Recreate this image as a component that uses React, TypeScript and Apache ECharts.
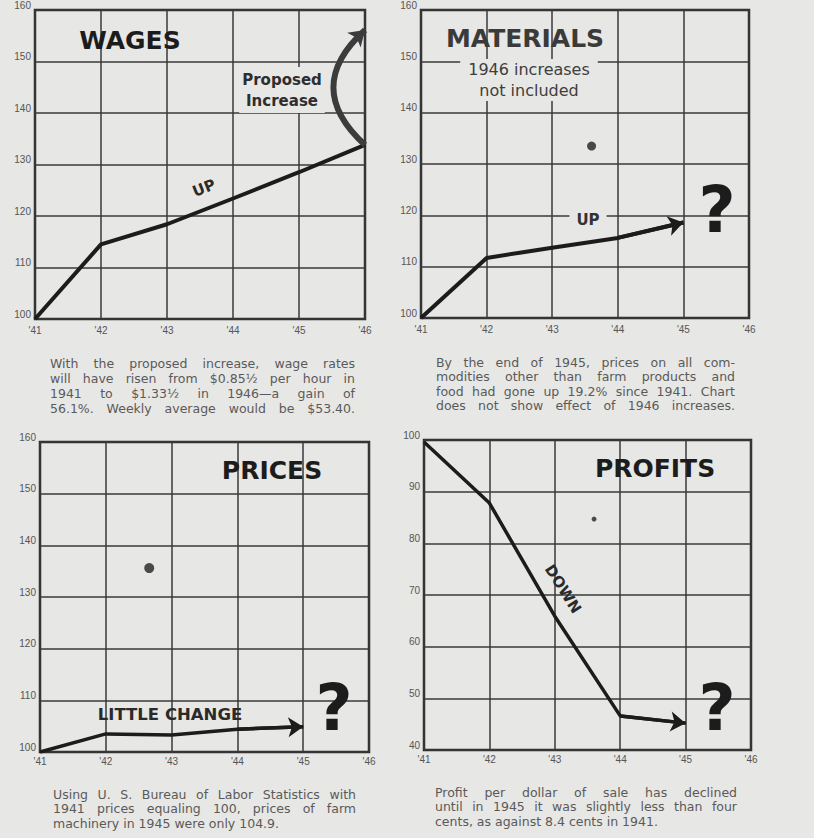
import React, { useEffect, useRef } from "react";
import * as echarts from "echarts";

// ---------- data ----------
const years = [1941, 1942, 1943, 1944, 1945, 1946];
const yearLabels = ["'41", "'42", "'43", "'44", "'45", "'46"];
const wages = [100, 114.5, 118.4, 123.4, 128.5, 133.8];
const wagesProposed = 156.1;
const materials = [100, 111.7, 113.7, 115.6, 118.6];
const prices = [100, 103.5, 103.3, 104.4, 104.9];
const profits = [99.6, 87.8, 65.9, 46.6, 45.2];
const indexTicks = [100, 110, 120, 130, 140, 150, 160];
const profitTicks = [40, 50, 60, 70, 80, 90, 100];
// printing blemishes visible on the page: [year, value, size]
const materialsDots = [[1943.6, 133.5, 9]];
const pricesDots = [[1942.66, 135.6, 10]];
const profitsDots = [[1943.6, 84.7, 5]];

const titles = ["WAGES", "MATERIALS", "PRICES", "PROFITS"];
const caption1 = [
  "With the proposed increase, wage rates",
  "will have risen from $0.85½ per hour in",
  "1941 to $1.33½ in 1946—a gain of",
  "56.1%. Weekly average would be $53.40.",
];
const caption2 = [
  "By the end of 1945, prices on all com-",
  "modities other than farm products and",
  "food had gone up 19.2% since 1941. Chart",
  "does not show effect of 1946 increases.",
];
const caption3 = [
  "Using U. S. Bureau of Labor Statistics with",
  "1941 prices equaling 100, prices of farm",
  "machinery in 1945 were only 104.9.",
];
const caption4 = [
  "Profit per dollar of sale has declined",
  "until in 1945 it was slightly less than four",
  "cents, as against 8.4 cents in 1941.",
];

const PAPER = "#e7e7e5";
const INK = "#1c1c1c";
const GRIDC = "#3a3a3a";

function pairs(vals: number[]) {
  return vals.map((v, i) => [years[i], v]);
}

let measureCtx: CanvasRenderingContext2D | null = null;
function measure(t: string, font: string) {
  if (!measureCtx) measureCtx = document.createElement("canvas").getContext("2d");
  measureCtx!.font = font;
  return measureCtx!.measureText(t).width;
}

function captionEls(lines: string[], x0: number, width: number, y0: number, lh: number, justifyLast: boolean) {
  const size = 12.5;
  const fam = "DejaVu Sans";
  const font = `${size}px ${fam}`;
  const els: any[] = [];
  lines.forEach((line, li) => {
    const y = y0 + li * lh;
    const isLast = li === lines.length - 1;
    const words = line.split(" ");
    if ((isLast && !justifyLast) || words.length < 2) {
      els.push({ type: "text", x: x0, y, z: 3, style: { text: line, font, fill: "#5a5a5a", align: "left", verticalAlign: "middle" } });
      return;
    }
    const ws = words.map((w) => measure(w, font));
    const total = ws.reduce((a, b) => a + b, 0);
    const gap = Math.max(3, (width - total) / (words.length - 1));
    let cx = x0;
    words.forEach((w, i) => {
      els.push({ type: "text", x: cx, y, z: 3, style: { text: w, font, fill: "#5a5a5a", align: "left", verticalAlign: "middle" } });
      cx += ws[i] + gap;
    });
  });
  return els;
}

export default function App() {
  const ref = useRef<HTMLDivElement>(null);
  useEffect(() => {
    if (!ref.current) return;
    const chart = echarts.init(ref.current, null, { renderer: "svg" });
    const grids = [
      { left: 35, top: 6, width: 330, height: 313 },
      { left: 421, top: 5, width: 328, height: 313 },
      { left: 40, top: 442, width: 329, height: 310 },
      { left: 424, top: 440, width: 327, height: 310 },
    ].map((g) => ({ ...g, show: true, borderColor: "#2a2a2a", borderWidth: 2.5, backgroundColor: "transparent" }));

    const xAxes = grids.map((_, i) => ({
      type: "value",
      gridIndex: i,
      min: years[0],
      max: years[years.length - 1],
      interval: 1,
      axisLine: { show: false },
      axisTick: { show: false },
      splitLine: { show: true, lineStyle: { color: GRIDC, width: 1.5 } },
      axisLabel: {
        formatter: (v: number) => yearLabels[years.indexOf(v)] ?? "",
        fontSize: 10,
        fontFamily: "Liberation Sans",
        color: "#555",
        margin: i < 2 ? 6 : 4,
      },
    }));
    const yAxes = grids.map((_, i) => {
      const ticks = i === 3 ? profitTicks : indexTicks;
      return {
        type: "value",
        gridIndex: i,
        min: ticks[0],
        max: ticks[ticks.length - 1],
        interval: 10,
        axisLine: { show: false },
        axisTick: { show: false },
        splitLine: { show: true, lineStyle: { color: GRIDC, width: 1.5 } },
        axisLabel: {
          fontSize: 10,
          fontFamily: "Liberation Sans",
          color: "#555",
          margin: 4,
          verticalAlign: "bottom",
        },
      };
    });

    const lineSeries = (idx: number, vals: number[], width: number) => ({
      type: "line",
      xAxisIndex: idx,
      yAxisIndex: idx,
      data: pairs(vals),
      symbol: "none",
      lineStyle: { color: INK, width },
      z: 4,
    });
    const arrowSeries = (idx: number, vals: number[], width: number) => ({
      type: "lines",
      coordinateSystem: "cartesian2d",
      xAxisIndex: idx,
      yAxisIndex: idx,
      symbol: ["none", "arrow"],
      symbolSize: [11, 15],
      lineStyle: { color: INK, width, opacity: 1 },
      data: [{ coords: [pairs(vals)[vals.length - 2], pairs(vals)[vals.length - 1]] }],
      z: 5,
    });
    const dotSeries = (idx: number, dots: number[][]) => ({
      type: "scatter",
      xAxisIndex: idx,
      yAxisIndex: idx,
      data: dots.map((d) => [d[0], d[1]]),
      symbolSize: (_v: any, p: any) => dots[p.dataIndex][2],
      itemStyle: { color: "#222" },
      z: 4,
    });

    const titleFont = "bold 25px DejaVu Sans";
    const qFont = "bold 64px DejaVu Sans";
    const graphics: any[] = [
      { type: "text", x: 130, y: 40, z: 3, style: { text: titles[0], font: titleFont, fill: INK, align: "center", verticalAlign: "middle" } },
      { type: "text", x: 282, y: 90, z: 3, style: { text: "Proposed\nIncrease", font: "bold 15px DejaVu Sans", lineHeight: 21, fill: "#2e2e2e", align: "center", verticalAlign: "middle", backgroundColor: PAPER, padding: [2, 3] } },
      { type: "text", x: 204, y: 188, z: 3, rotation: 0.38, style: { text: "UP", font: "bold 15px DejaVu Sans", fill: "#2a2a2a", align: "center", verticalAlign: "middle" } },

      { type: "text", x: 525, y: 38, z: 3, style: { text: titles[1], font: titleFont, fill: "#3a3a3a", align: "center", verticalAlign: "middle" } },
      { type: "text", x: 529, y: 80, z: 3, style: { text: "1946 increases\nnot included", font: "16px DejaVu Sans", lineHeight: 21, fill: "#3e3e3e", align: "center", verticalAlign: "middle", backgroundColor: PAPER, padding: [0, 8] } },
      { type: "text", x: 588, y: 220, z: 3, style: { text: "UP", font: "bold 15px DejaVu Sans", fill: "#333", align: "center", verticalAlign: "middle", backgroundColor: PAPER, padding: [0, 7] } },
      { type: "text", x: 717, y: 210, z: 3, style: { text: "?", font: qFont, fill: INK, align: "center", verticalAlign: "middle" } },

      { type: "text", x: 272, y: 470, z: 3, style: { text: titles[2], font: titleFont, fill: INK, align: "center", verticalAlign: "middle" } },
      { type: "text", x: 170, y: 714, z: 3, style: { text: "LITTLE CHANGE", font: "bold 16.5px DejaVu Sans", fill: "#2a2a2a", align: "center", verticalAlign: "middle" } },
      { type: "text", x: 334, y: 708, z: 3, style: { text: "?", font: qFont, fill: INK, align: "center", verticalAlign: "middle" } },

      { type: "text", x: 655, y: 468, z: 3, style: { text: titles[3], font: titleFont, fill: INK, align: "center", verticalAlign: "middle" } },
      { type: "text", x: 563, y: 589, z: 3, rotation: -1.005, style: { text: "DOWN", font: "bold 15px DejaVu Sans", fill: "#2a2a2a", align: "center", verticalAlign: "middle" } },
      { type: "text", x: 717, y: 708, z: 3, style: { text: "?", font: qFont, fill: INK, align: "center", verticalAlign: "middle" } },

      ...captionEls(caption1, 50, 305, 363, 15, true),
      ...captionEls(caption2, 436, 299, 362, 14.5, true),
      ...captionEls(caption3, 53, 303, 794, 14.5, false),
      ...captionEls(caption4, 435, 302, 792, 14.5, false),
    ];

    chart.setOption({
      animation: false,
      backgroundColor: PAPER,
      grid: grids,
      xAxis: xAxes,
      yAxis: yAxes,
      graphic: { elements: graphics },
      series: [
        lineSeries(0, wages, 4),
        {
          type: "lines",
          coordinateSystem: "cartesian2d",
          xAxisIndex: 0,
          yAxisIndex: 0,
          symbol: ["none", "arrow"],
          symbolSize: [13, 15],
          lineStyle: { color: "#3c3c3c", width: 6, curveness: 0.55, opacity: 1 },
          data: [{ coords: [[years[5], wages[5]], [years[5], wagesProposed]] }],
          z: 5,
        },
        lineSeries(1, materials, 4),
        arrowSeries(1, materials, 4),
        dotSeries(1, materialsDots),
        lineSeries(2, prices, 3.5),
        arrowSeries(2, prices, 3.5),
        dotSeries(2, pricesDots),
        lineSeries(3, profits, 3.5),
        arrowSeries(3, profits, 3.5),
        dotSeries(3, profitsDots),
      ],
    });
    return () => chart.dispose();
  }, []);
  return <div ref={ref} style={{ position: "absolute", left: 0, top: 0, width: 814, height: 838 }} />;
}
